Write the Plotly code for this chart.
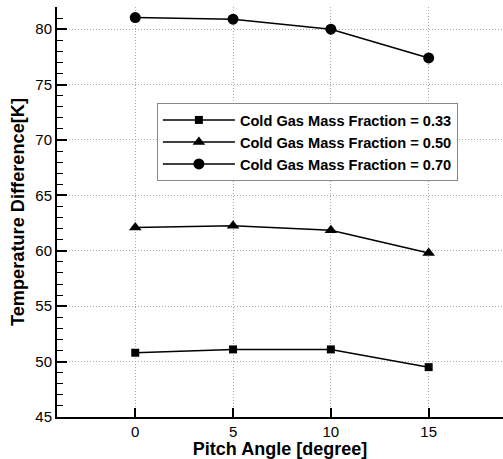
import plotly.graph_objects as go

pitch = [0, 5, 10, 15]
frac_033 = [50.8, 51.1, 51.1, 49.5]
frac_050 = [62.1, 62.25, 61.85, 59.8]
frac_070 = [81.05, 80.9, 80.0, 77.4]
names = ["Cold Gas Mass Fraction = 0.33", "Cold Gas Mass Fraction = 0.50", "Cold Gas Mass Fraction = 0.70"]

fig = go.Figure()
for ys, nm, sym, sz in [(frac_033, names[0], "square", 8),
                        (frac_050, names[1], "triangle-up", 11),
                        (frac_070, names[2], "circle", 11)]:
    fig.add_trace(go.Scatter(x=pitch, y=ys, name=nm, mode="lines+markers",
                             line=dict(color="black", width=1.5),
                             marker=dict(symbol=sym, size=sz, color="black")))

fig.update_layout(
    width=503, height=459,
    margin=dict(l=57, r=0, t=7, b=42, autoexpand=False),
    paper_bgcolor="white", plot_bgcolor="white",
    font=dict(family="Liberation Sans, Arial", color="black", size=15),
    showlegend=True,
    legend=dict(x=0.224, y=0.766, xanchor="left", yanchor="top",
                bordercolor="#888888", borderwidth=1, bgcolor="white",
                font=dict(size=14.6, family="Liberation Sans, Arial", weight="bold"),
                tracegroupgap=0, itemwidth=72),
)
fig.update_xaxes(range=[-4, 18.8], tickvals=pitch, ticks="inside", ticklen=9, tickwidth=2,
                 tickcolor="black", showline=True, linecolor="black", linewidth=2,
                 showgrid=True, gridcolor="#aaaaaa", griddash="1px,2px", gridwidth=1,
                 zeroline=False, automargin=False,
                 title=dict(text="<b>Pitch Angle [degree]</b>", font=dict(size=18), standoff=3))
fig.update_yaxes(range=[45, 82], dtick=5, tick0=45, ticks="inside", ticklen=10, tickwidth=2,
                 tickcolor="black", showline=True, linecolor="black", linewidth=2,
                 showgrid=True, gridcolor="#aaaaaa", griddash="1px,2px", gridwidth=1,
                 zeroline=False, automargin=False,
                 minor=dict(dtick=1, ticks="inside", ticklen=6, tickwidth=1, tickcolor="black", showgrid=False),
                 title=dict(text="<b>Temperature Difference[K]</b>", font=dict(size=18.2), standoff=6))

fig.write_html("out.html", config={"displayModeBar": False},
               post_script="document.body.style.margin='0';document.body.style.overflow='hidden';")
